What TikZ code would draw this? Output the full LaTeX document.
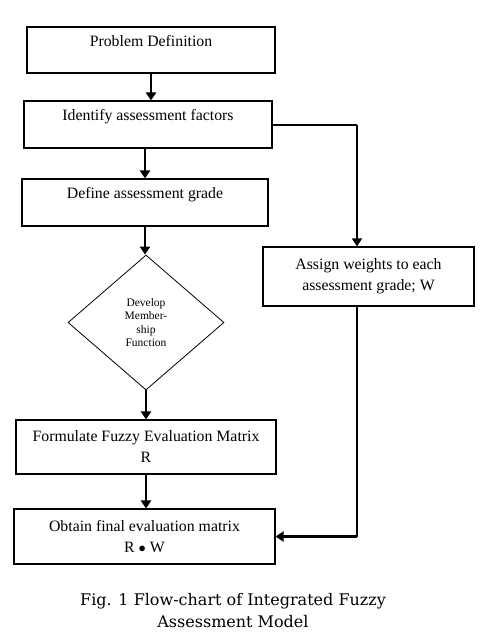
\documentclass[tikz,border=0pt]{standalone}
\usepackage{fontspec}
\newfontfamily\boxfont{Liberation Serif}
\newfontfamily\capfont{DejaVu Serif}
\usetikzlibrary{shapes.geometric,arrows.meta}
\tikzset{
  stepbox/.style={draw,line width=1.1pt,inner sep=0pt,align=center,
    font=\boxfont\fontsize{15.8}{21}\selectfont},
  topline/.style={text height=10pt,text depth=18pt},
  decide/.style={draw,diamond,line width=0.8pt,inner sep=0pt,align=center,
    font=\boxfont\fontsize{11.5}{13.5}\selectfont},
  flow/.style={line width=2.6pt,-{Triangle[width=10pt,length=8pt]}},
  feed/.style={line width=1.3pt},
}
\begin{document}
\begin{tikzpicture}[x=1pt,y=-1pt]
  \useasboundingbox (0,0) rectangle (494,638);

  \node[stepbox,topline,minimum width=248pt,minimum height=46pt] (pd) at (151,50) {Problem Definition};
  \node[stepbox,topline,minimum width=248pt,minimum height=47pt] (iaf) at (148,124.5) {Identify assessment factors};
  \node[stepbox,topline,minimum width=246pt,minimum height=47pt] (dag) at (145,202.5) {Define assessment grade};
  \node[decide,minimum width=156pt,minimum height=135pt] (dmf) at (146,322.5) {Develop\\Member-\\ship\\Function};
  \node[stepbox,minimum width=211pt,minimum height=59pt] (awg) at (368.5,276.5) {Assign weights to each\\assessment grade; W};
  \node[stepbox,minimum width=260pt,minimum height=54pt] (fem) at (146,447) {Formulate Fuzzy Evaluation Matrix\\R};
  \node[stepbox,minimum width=261pt,minimum height=55pt] (ofe) at (144.5,536.5) {Obtain final evaluation matrix\\R $\bullet$ W};

  \coordinate (r1) at (357,125);
  \coordinate (r2) at (357,536.5);

  \draw[flow] (pd.south) -- (pd.south |- iaf.north);
  \draw[flow] (dag.north |- iaf.south) -- (dag.north);
  \draw[flow] (dag.south) -- (dag.south |- dmf.north);
  \draw[flow] (dmf.south) -- (dmf.south |- fem.north);
  \draw[flow] (fem.south) -- (fem.south |- ofe.north);

  \draw[feed] (iaf.east |- r1) -- (r1);
  \draw[feed,-{Triangle[width=10pt,length=8pt]}] (r1) -- (r1 |- awg.north);
  \draw[feed] (r1 |- awg.south) -- (r2);
  \draw[flow] (r2) -- (ofe.east);

  \node[font=\capfont\fontsize{16}{22}\selectfont,align=center] (cap) at (233,611)
    {Fig. 1 Flow-chart of Integrated Fuzzy\\Assessment Model};
\end{tikzpicture}
\end{document}
